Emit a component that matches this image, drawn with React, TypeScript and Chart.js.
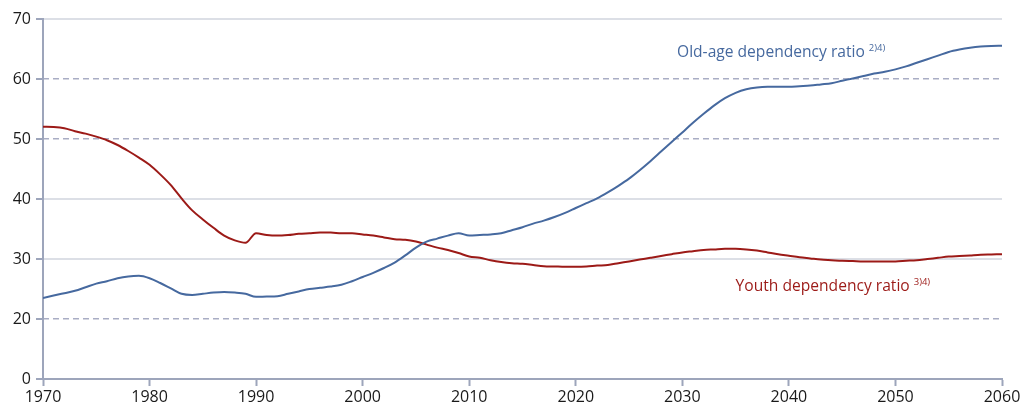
import { useEffect, useRef } from "react";
import { Chart, registerables } from "chart.js";

Chart.register(...registerables);

// ---- Data ----
const years = [
  1970, 1971, 1972, 1973, 1974, 1975, 1976, 1977, 1978, 1979,
  1980, 1981, 1982, 1983, 1984, 1985, 1986, 1987, 1988, 1989,
  1990, 1991, 1992, 1993, 1994, 1995, 1996, 1997, 1998, 1999,
  2000, 2001, 2002, 2003, 2004, 2005, 2006, 2007, 2008, 2009,
  2010, 2011, 2012, 2013, 2014, 2015, 2016, 2017, 2018, 2019,
  2020, 2021, 2022, 2023, 2024, 2025, 2026, 2027, 2028, 2029,
  2030, 2031, 2032, 2033, 2034, 2035, 2036, 2037, 2038, 2039,
  2040, 2041, 2042, 2043, 2044, 2045, 2046, 2047, 2048, 2049,
  2050, 2051, 2052, 2053, 2054, 2055, 2056, 2057, 2058, 2059,
  2060,
];

const oldAgeRatio = [
  23.5, 23.9, 24.3, 24.7, 25.3, 25.9, 26.3, 26.8, 27.1, 27.2,
  26.8, 26.0, 25.1, 24.2, 24.0, 24.2, 24.4, 24.5, 24.4, 24.2,
  23.7, 23.75, 23.8, 24.2, 24.6, 25.0, 25.2, 25.4, 25.7, 26.3,
  27.0, 27.7, 28.5, 29.4, 30.6, 31.9, 32.9, 33.4, 33.9, 34.3,
  33.9, 34.0, 34.1, 34.3, 34.8, 35.3, 35.9, 36.4, 37.0, 37.7,
  38.5, 39.3, 40.1, 41.1, 42.2, 43.4, 44.8, 46.3, 47.9, 49.5,
  51.1, 52.7, 54.2, 55.6, 56.8, 57.7, 58.3, 58.6, 58.7, 58.7,
  58.7, 58.8, 58.9, 59.1, 59.3, 59.7, 60.1, 60.5, 60.9, 61.2,
  61.6, 62.1, 62.7, 63.3, 63.9, 64.5, 64.9, 65.2, 65.4, 65.5,
  65.55,
];

const youthRatio = [
  52.05, 52.0, 51.8, 51.3, 50.9, 50.4, 49.8, 49.0, 48.0, 46.9,
  45.7, 44.1, 42.3, 40.1, 38.1, 36.6, 35.2, 33.9, 33.1, 32.7,
  34.3, 34.0, 33.9, 34.0, 34.2, 34.3, 34.4, 34.4, 34.3, 34.3,
  34.1, 33.9, 33.6, 33.3, 33.2, 32.9, 32.4, 31.9, 31.5, 31.0,
  30.4, 30.2, 29.8, 29.5, 29.3, 29.2, 29.0, 28.8, 28.75, 28.7,
  28.7, 28.75, 28.9, 29.0, 29.3, 29.6, 29.9, 30.2, 30.5, 30.8,
  31.1, 31.3, 31.5, 31.6, 31.7, 31.7, 31.6, 31.4, 31.1, 30.8,
  30.55, 30.3, 30.1, 29.9, 29.8, 29.7, 29.65, 29.6, 29.6, 29.6,
  29.6, 29.7, 29.8, 30.0, 30.2, 30.4, 30.5, 30.6, 30.7, 30.75,
  30.8,
];

// Broken y axis: the bottom tick (drawn at 10) is labelled "0"
const yTickPositions = [10, 20, 30, 40, 50, 60, 70];
const yTickLabels = ["0", "20", "30", "40", "50", "60", "70"];
const solidGridValues = [30, 40, 70];
const dashedGridValues = [20, 50, 60];

const oldAgeLabel = "Old-age dependency ratio";
const oldAgeNote = "2)4)";
const youthLabel = "Youth dependency ratio";
const youthNote = "3)4)";

// ---- Styles ----
const BLUE = "#46699f";
const RED = "#9c1a17";
const AXIS = "#9da5bb";
const GRID_SOLID = "#dcdfe6";
const GRID_DASHED = "#a9adc4";
const FONT = '"Open Sans", "Noto Sans", sans-serif';

const labelsPlugin = {
  id: "seriesLabels",
  afterDatasetsDraw(chart: any) {
    const { ctx } = chart;
    const xs = chart.scales.x;
    const ys = chart.scales.y;
    const draw = (text: string, note: string, year: number, value: number, color: string) => {
      const px = xs.getPixelForValue(year);
      const py = ys.getPixelForValue(value);
      ctx.save();
      ctx.fillStyle = color;
      ctx.textBaseline = "alphabetic";
      ctx.textAlign = "left";
      ctx.font = `15.6px ${FONT}`;
      ctx.fillText(text, px, py);
      const w = ctx.measureText(text).width;
      ctx.font = `9.5px ${FONT}`;
      ctx.fillText(note, px + w + 4, py - 6);
      ctx.restore();
    };
    draw(oldAgeLabel, oldAgeNote, 2029.5, 63.6, BLUE);
    draw(youthLabel, youthNote, 2035.0, 24.7, RED);
  },
};

export default function App() {
  const canvasRef = useRef<HTMLCanvasElement | null>(null);

  useEffect(() => {
    if (!canvasRef.current) return;
    const chart = new Chart(canvasRef.current, {
      type: "line",
      data: {
        datasets: [
          {
            label: "Old-age dependency ratio",
            data: years.map((yr, i) => ({ x: yr, y: oldAgeRatio[i] })),
            borderColor: BLUE,
            borderWidth: 2,
            pointRadius: 0,
            cubicInterpolationMode: "monotone",
            fill: false,
          },
          {
            label: "Youth dependency ratio",
            data: years.map((yr, i) => ({ x: yr, y: youthRatio[i] })),
            borderColor: RED,
            borderWidth: 2,
            pointRadius: 0,
            cubicInterpolationMode: "monotone",
            fill: false,
          },
        ],
      },
      options: {
        animation: false,
        responsive: true,
        maintainAspectRatio: false,
        layout: { padding: { top: 19, right: 24, left: 0, bottom: 0 } },
        plugins: {
          legend: { display: false },
          tooltip: { enabled: false },
          title: { display: false },
        },
        scales: {
          x: {
            type: "linear",
            min: 1970,
            max: 2060,
            ticks: {
              stepSize: 10,
              padding: 2,
              color: "#1a1a1a",
              font: { family: FONT, size: 16 },
              maxRotation: 0,
              callback: (v: any) => String(v),
            },
            grid: {
              drawOnChartArea: false,
              drawTicks: true,
              tickLength: 7,
              tickColor: AXIS,
              tickWidth: 2,
            },
            border: { display: true, color: AXIS, width: 2 },
            afterFit: (s: any) => {
              s.height = 28;
            },
          },
          y: {
            type: "linear",
            position: "left",
            min: 10,
            max: 70,
            afterBuildTicks: (s: any) => {
              s.ticks = yTickPositions.map((v) => ({ value: v }));
            },
            ticks: {
              padding: 5,
              color: "#1a1a1a",
              font: { family: FONT, size: 16 },
              callback: (_v: any, i: number) => yTickLabels[i],
            },
            grid: {
              color: (c: any) =>
                c.tick && solidGridValues.includes(c.tick.value) ? GRID_SOLID : "rgba(0,0,0,0)",
              lineWidth: 2,
              tickLength: 7,
              tickColor: AXIS,
              tickWidth: 2,
            },
            border: { display: true, color: AXIS, width: 2 },
            afterFit: (s: any) => {
              s.width = 43;
            },
          },
          y2: {
            type: "linear",
            position: "left",
            min: 10,
            max: 70,
            afterBuildTicks: (s: any) => {
              s.ticks = dashedGridValues.map((v) => ({ value: v }));
            },
            ticks: { display: false },
            grid: {
              color: GRID_DASHED,
              lineWidth: 1.5,
              drawTicks: false,
              borderDash: [6, 4],
            } as any,
            border: { display: false, dash: [6, 4] },
            afterFit: (s: any) => {
              s.width = 0;
            },
          },
        },
      } as any,
      plugins: [labelsPlugin],
    });
    return () => chart.destroy();
  }, []);

  return (
    <div style={{ position: "fixed", left: 0, top: 0, width: 1026, height: 407, background: "#fff" }}>
      <canvas ref={canvasRef} />
    </div>
  );
}
